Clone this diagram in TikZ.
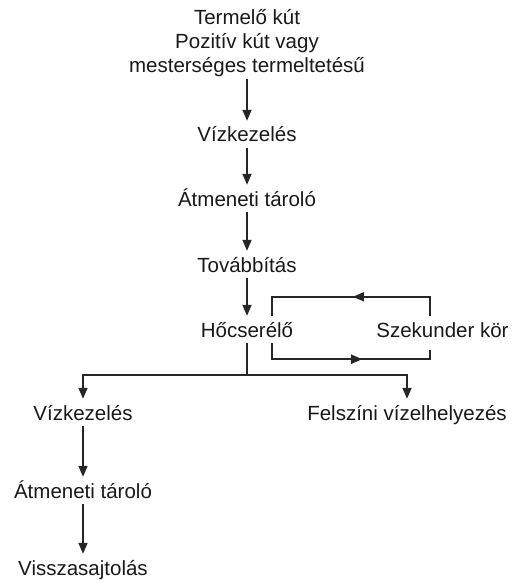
\documentclass[tikz,border=0pt]{standalone}
\usepackage{fontspec}
\setmainfont{Liberation Sans}
\usetikzlibrary{positioning,arrows.meta,decorations.markings}
\tikzset{
  every node/.style={
    font=\fontsize{20.5pt}{24pt}\selectfont,
    inner sep=2pt,
    text=black!90
  },
  stage/.style={text height=19pt, text depth=3.5pt},
  pipe/.style={line width=1.7pt, draw=black!85},
  flow/.style={pipe, -{Triangle[length=11pt,width=9pt]}},
  midtip/.style={pipe, postaction={decorate},
    decoration={markings,
      mark=at position #1 with {\arrow{Triangle[length=11pt,width=9pt]}}}}
}

\begin{document}
\begin{tikzpicture}
  \useasboundingbox (0,0) rectangle (512pt,-580pt);
  \node [stage] (Viz) at (247pt,-134.25pt) {Vízkezelés};
  \node [above=42pt of Viz, align=center] (Well)
    {Termelő kút\\Pozitív kút vagy\\mesterséges termeltetésű};
  \node [stage, on grid, below=64pt of Viz] (Buffer) {Átmeneti tároló};
  \node [stage, on grid, below=66pt of Buffer] (Transfer) {Továbbítás};
  \node [stage, on grid, below=65pt of Transfer] (HeatEx) {Hőcserélő};
  \node [stage, on grid, right=195.5pt of HeatEx] (Loop) {Szekunder kör};
  \node [stage, on grid, below left=83pt and 164pt of HeatEx] (VizB) {Vízkezelés};
  \node [stage, on grid, below right=83pt and 160pt of HeatEx] (Surface) {Felszíni vízelhelyezés};
  \node [stage, on grid, below=78pt of VizB] (BufferB) {Átmeneti tároló};
  \node [stage, on grid, below=77pt of BufferB] (Inject) {Visszasajtolás};

  \draw [flow] (Well) -- (Viz);
  \draw [flow] (Viz) -- (Buffer);
  \draw [flow] (Buffer) -- (Transfer);
  \draw [flow] (Transfer) -- (HeatEx);

  % secondary circuit
  \draw [midtip=0.49] ([xshift=-12.5pt]Loop.north) -- ++(0,19pt)
    -| ([xshift=25pt]HeatEx.north);
  \draw [midtip=0.58] ([xshift=25pt]HeatEx.south) -- ++(0,-16.5pt)
    -| ([xshift=-12.5pt,yshift=-7pt]Loop.south);

  % split towards reinjection and surface disposal
  \draw [pipe] (HeatEx.south) -- ++(0,-32.5pt) coordinate (Split);
  \draw [flow] (Split) -| (VizB.north);
  \draw [flow] (Split) -| (Surface.north);
  \draw [flow] (VizB) -- (BufferB);
  \draw [flow] (BufferB) -- (Inject);
\end{tikzpicture}
\end{document}
